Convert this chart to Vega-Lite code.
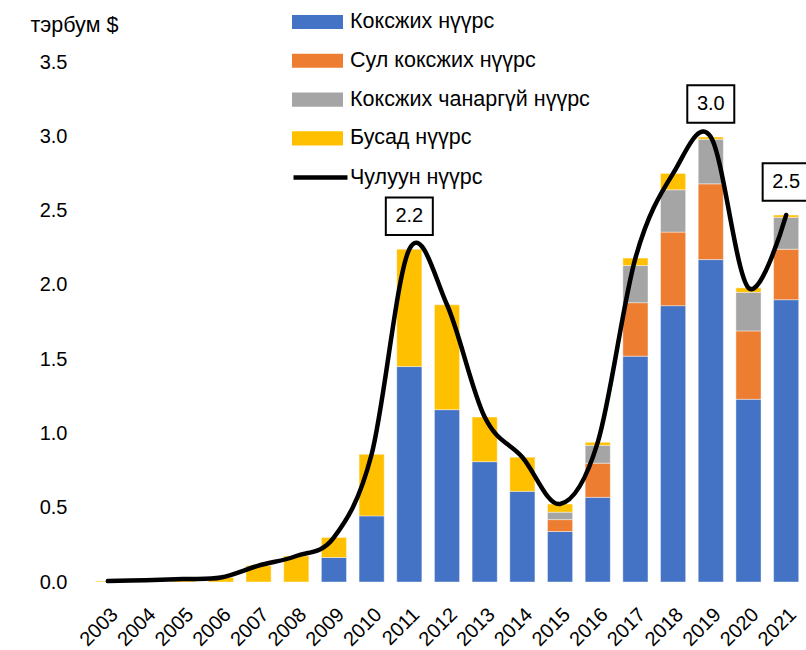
{
  "$schema": "https://vega.github.io/schema/vega-lite/v6.json",
  "width": 716,
  "height": 520,
  "autosize": {"type": "none"},
  "padding": {"left": 89, "top": 62, "right": 1, "bottom": 68},
  "background": "white",
  "config": {
    "view": {"stroke": null},
    "font": "Liberation Sans",
    "axis": {"labelFont": "Liberation Sans", "labelColor": "black", "titleColor": "black", "grid": false, "domain": false, "ticks": false},
    "legend": {"labelFont": "Liberation Sans", "labelColor": "black", "labelFontSize": 21.5, "labelLimit": 400}
  },
  "datasets": {
    "bars": [
      {"year": "2003", "type": "Бусад нүүрс", "value": 0.006},
      {"year": "2004", "type": "Бусад нүүрс", "value": 0.012},
      {"year": "2005", "type": "Бусад нүүрс", "value": 0.02},
      {"year": "2006", "type": "Бусад нүүрс", "value": 0.03},
      {"year": "2007", "type": "Бусад нүүрс", "value": 0.11},
      {"year": "2008", "type": "Бусад нүүрс", "value": 0.175},
      {"year": "2009", "type": "Коксжих нүүрс", "value": 0.165},
      {"year": "2009", "type": "Бусад нүүрс", "value": 0.135},
      {"year": "2010", "type": "Коксжих нүүрс", "value": 0.445},
      {"year": "2010", "type": "Бусад нүүрс", "value": 0.415},
      {"year": "2011", "type": "Коксжих нүүрс", "value": 1.45},
      {"year": "2011", "type": "Бусад нүүрс", "value": 0.79},
      {"year": "2012", "type": "Коксжих нүүрс", "value": 1.16},
      {"year": "2012", "type": "Бусад нүүрс", "value": 0.706},
      {"year": "2013", "type": "Коксжих нүүрс", "value": 0.81},
      {"year": "2013", "type": "Бусад нүүрс", "value": 0.30},
      {"year": "2014", "type": "Коксжих нүүрс", "value": 0.61},
      {"year": "2014", "type": "Бусад нүүрс", "value": 0.23},
      {"year": "2015", "type": "Коксжих нүүрс", "value": 0.34},
      {"year": "2015", "type": "Сул коксжих нүүрс", "value": 0.08},
      {"year": "2015", "type": "Коксжих чанаргүй нүүрс", "value": 0.05},
      {"year": "2015", "type": "Бусад нүүрс", "value": 0.055},
      {"year": "2016", "type": "Коксжих нүүрс", "value": 0.57},
      {"year": "2016", "type": "Сул коксжих нүүрс", "value": 0.23},
      {"year": "2016", "type": "Коксжих чанаргүй нүүрс", "value": 0.12},
      {"year": "2016", "type": "Бусад нүүрс", "value": 0.02},
      {"year": "2017", "type": "Коксжих нүүрс", "value": 1.52},
      {"year": "2017", "type": "Сул коксжих нүүрс", "value": 0.36},
      {"year": "2017", "type": "Коксжих чанаргүй нүүрс", "value": 0.25},
      {"year": "2017", "type": "Бусад нүүрс", "value": 0.05},
      {"year": "2018", "type": "Коксжих нүүрс", "value": 1.86},
      {"year": "2018", "type": "Сул коксжих нүүрс", "value": 0.495},
      {"year": "2018", "type": "Коксжих чанаргүй нүүрс", "value": 0.285},
      {"year": "2018", "type": "Бусад нүүрс", "value": 0.11},
      {"year": "2019", "type": "Коксжих нүүрс", "value": 2.17},
      {"year": "2019", "type": "Сул коксжих нүүрс", "value": 0.51},
      {"year": "2019", "type": "Коксжих чанаргүй нүүрс", "value": 0.30},
      {"year": "2019", "type": "Бусад нүүрс", "value": 0.015},
      {"year": "2020", "type": "Коксжих нүүрс", "value": 1.23},
      {"year": "2020", "type": "Сул коксжих нүүрс", "value": 0.46},
      {"year": "2020", "type": "Коксжих чанаргүй нүүрс", "value": 0.26},
      {"year": "2020", "type": "Бусад нүүрс", "value": 0.03},
      {"year": "2021", "type": "Коксжих нүүрс", "value": 1.90},
      {"year": "2021", "type": "Сул коксжих нүүрс", "value": 0.34},
      {"year": "2021", "type": "Коксжих чанаргүй нүүрс", "value": 0.215},
      {"year": "2021", "type": "Бусад нүүрс", "value": 0.015}
    ],
    "totals": [
      {"year": "2003", "total": 0.006},
      {"year": "2004", "total": 0.012},
      {"year": "2005", "total": 0.02},
      {"year": "2006", "total": 0.03},
      {"year": "2007", "total": 0.11},
      {"year": "2008", "total": 0.175},
      {"year": "2009", "total": 0.30},
      {"year": "2010", "total": 0.86},
      {"year": "2011", "total": 2.24},
      {"year": "2012", "total": 1.866},
      {"year": "2013", "total": 1.11},
      {"year": "2014", "total": 0.84},
      {"year": "2015", "total": 0.525},
      {"year": "2016", "total": 0.94},
      {"year": "2017", "total": 2.18},
      {"year": "2018", "total": 2.75},
      {"year": "2019", "total": 2.995},
      {"year": "2020", "total": 1.98},
      {"year": "2021", "total": 2.47}
    ]
  },
  "encoding": {
    "x": {
      "field": "year", "type": "nominal",
      "scale": {"paddingInner": 0.3333, "paddingOuter": 0.1667},
      "axis": {"title": null, "labelAngle": -45, "labelFontSize": 20, "labelPadding": 22}
    }
  },
  "layer": [
    {
      "data": {"name": "bars"},
      "transform": [
        {"calculate": "indexof(['Коксжих нүүрс', 'Сул коксжих нүүрс', 'Коксжих чанаргүй нүүрс', 'Бусад нүүрс'], datum.type)", "as": "stackOrder"}
      ],
      "mark": {"type": "bar", "stroke": "white", "strokeWidth": 0.6, "strokeOpacity": 0.7},
      "encoding": {
        "y": {
          "field": "value", "type": "quantitative", "stack": "zero",
          "scale": {"domain": [0, 3.5], "nice": false},
          "axis": {
            "values": [0, 0.5, 1, 1.5, 2, 2.5, 3, 3.5], "format": ".1f",
            "labelFontSize": 20, "labelPadding": 22,
            "title": "тэрбум $", "titleAngle": 0, "titleFontSize": 21.5, "titleFontWeight": "normal",
            "titleAlign": "left", "titleBaseline": "alphabetic", "titleX": -59, "titleY": -31
          }
        },
        "color": {
          "field": "type", "type": "nominal",
          "sort": ["Коксжих нүүрс", "Сул коксжих нүүрс", "Коксжих чанаргүй нүүрс", "Бусад нүүрс"],
          "scale": {
            "domain": ["Коксжих нүүрс", "Сул коксжих нүүрс", "Коксжих чанаргүй нүүрс", "Бусад нүүрс"],
            "range": ["#4472C4", "#ED7D31", "#A5A5A5", "#FFC000"]
          },
          "legend": {
            "title": null, "orient": "none", "legendX": 213.5, "legendY": -55,
            "symbolType": "M-1.7,-0.47H1.7V0.47H-1.7Z", "symbolSize": 900,
            "symbolStrokeWidth": 0, "labelOffset": 17.5, "rowPadding": 12.8, "labelFontSize": 21.5
          }
        },
        "order": {"field": "stackOrder", "type": "quantitative", "sort": "ascending"}
      }
    },
    {
      "data": {"name": "totals"},
      "mark": {"type": "line", "interpolate": "cardinal", "strokeWidth": 4.5, "strokeCap": "round"},
      "encoding": {
        "y": {"field": "total", "type": "quantitative"},
        "stroke": {
          "datum": "Чулуун нүүрс",
          "scale": {"range": ["black"]},
          "legend": {
            "title": null, "orient": "none", "legendX": 202, "legendY": 86,
            "symbolType": "stroke", "symbolSize": 2916, "symbolStrokeWidth": 4.5,
            "labelOffset": 0, "labelFontSize": 21.5
          }
        }
      }
    },
    {
      "data": {"name": "totals"},
      "transform": [{"filter": {"field": "year", "oneOf": ["2011", "2019", "2021"]}}],
      "mark": {"type": "point", "shape": "M-1.175,-0.94H1.175V0.94H-1.175Z", "size": 1600, "filled": true, "fill": "white", "stroke": "black", "strokeWidth": 2, "opacity": 1},
      "encoding": {
        "y": {"field": "total", "type": "quantitative"},
        "yOffset": {"value": -33}
      }
    },
    {
      "data": {"name": "totals"},
      "transform": [{"filter": {"field": "year", "oneOf": ["2011", "2019", "2021"]}}],
      "mark": {"type": "text", "fontSize": 20, "color": "black", "dy": -33, "baseline": "middle", "align": "center"},
      "encoding": {
        "y": {"field": "total", "type": "quantitative"},
        "text": {"field": "total", "type": "quantitative", "format": ".1f"}
      }
    }
  ]
}
